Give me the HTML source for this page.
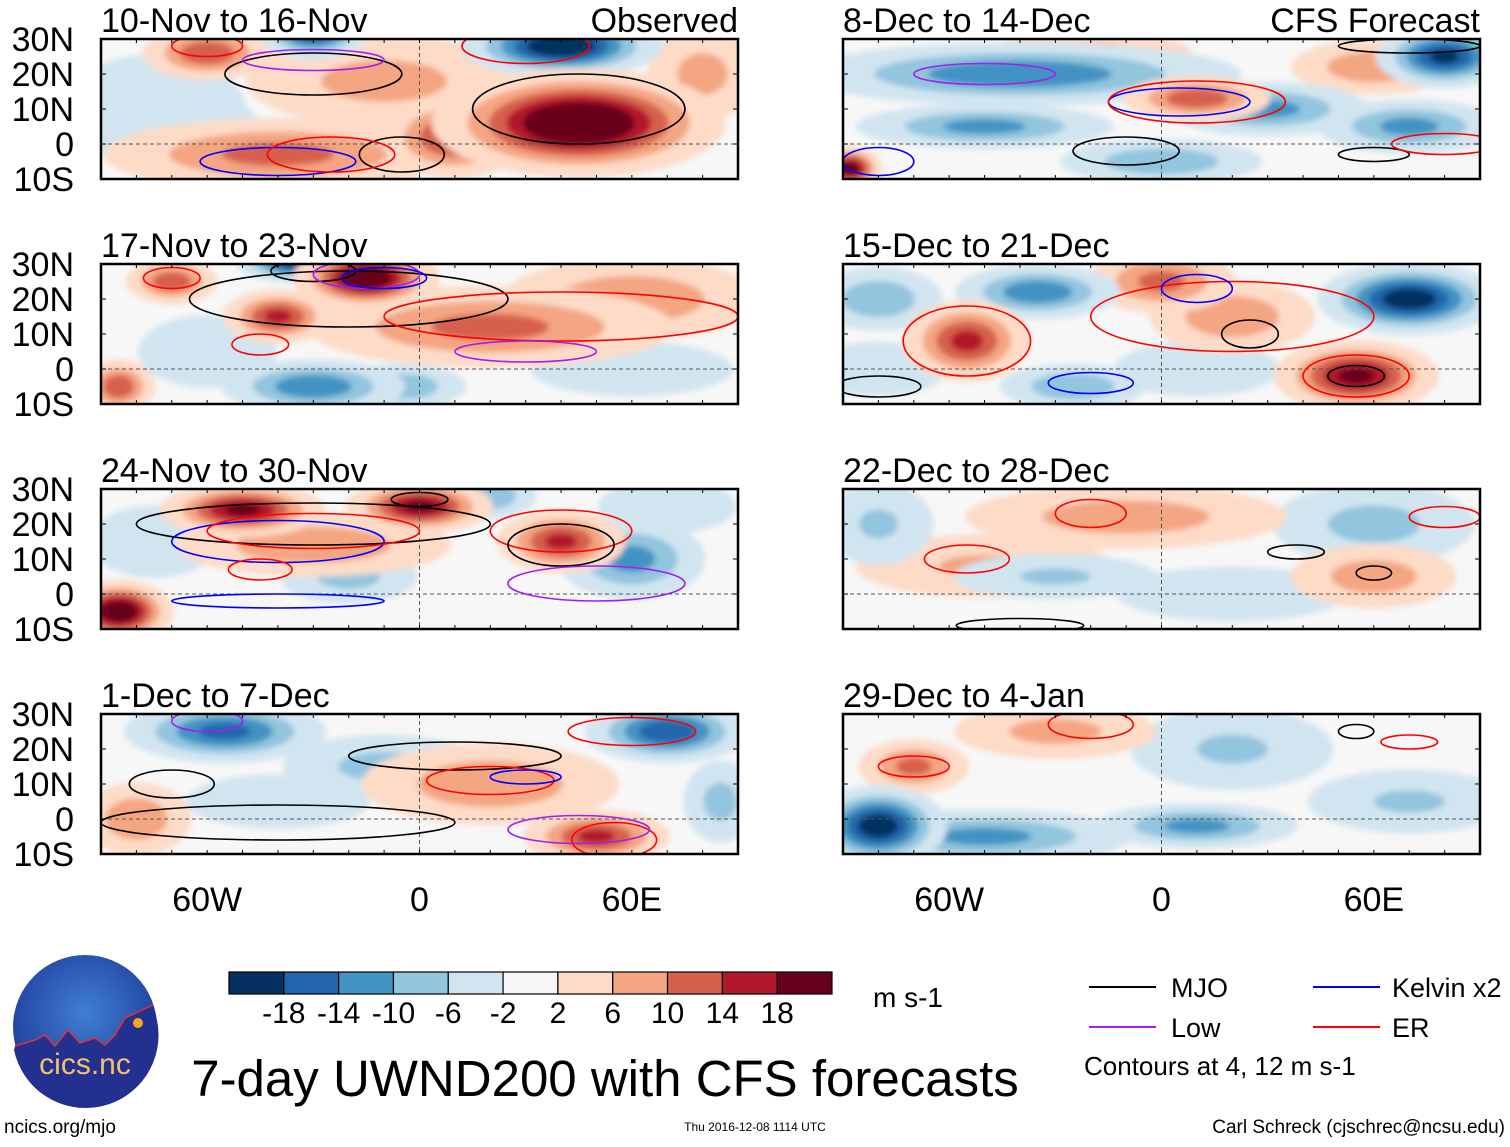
<!DOCTYPE html>
<html><head><meta charset="utf-8">
<style>
html,body{margin:0;padding:0;background:#fff;}
svg text{font-family:"Liberation Sans",sans-serif;}
</style></head>
<body>
<svg id="fig" width="1510" height="1142" viewBox="0 0 1510 1142" xmlns="http://www.w3.org/2000/svg">
<defs>
<filter id="blur" x="-20%" y="-20%" width="140%" height="140%"><feGaussianBlur stdDeviation="3"/></filter>
<radialGradient id="logoGrad" cx="50%" cy="40%" r="60%"><stop offset="0" stop-color="#3f7fd0"/><stop offset="1" stop-color="#1d3c9a"/></radialGradient>
</defs>
<g id="panels"></g>
<g id="colorbar"></g>
<g>
<circle cx="85" cy="1027" r="72" fill="url(#logoGrad)"/>
<path d="M15,1046 L35,1040 L45,1035 L55,1046 L68,1030 L80,1043 L95,1038 L105,1045 L115,1035 L125,1018 L153,1005 L157,1020 A72,72 0 0 1 14,1050 Z" fill="#24308f"/>
<path d="M15,1046 L35,1040 L45,1035 L55,1046 L68,1030 L80,1043 L95,1038 L105,1045 L115,1035 L125,1018 L153,1005" fill="none" stroke="#d33" stroke-width="1.5"/>
<circle cx="138" cy="1023" r="5" fill="#f5a623"/>
<text x="85" y="1074" font-size="30" fill="#f3c36b" text-anchor="middle">cics.nc</text>
</g>
<text x="4" y="1133" font-size="19">ncics.org/mjo</text>
<text x="755" y="1131" font-size="12" text-anchor="middle">Thu 2016-12-08 1114 UTC</text>
<text x="1505" y="1133" font-size="19" text-anchor="end">Carl Schreck (cjschrec@ncsu.edu)</text>
<text x="605" y="1096" font-size="51" text-anchor="middle">7-day UWND200 with CFS forecasts</text>
<text x="873" y="1007" font-size="28">m s-1</text>
<g>
<line x1="1089" y1="987" x2="1156" y2="987" stroke="#000" stroke-width="2"/>
<text x="1171" y="997" font-size="27">MJO</text>
<line x1="1089" y1="1027" x2="1156" y2="1027" stroke="#a020f0" stroke-width="2"/>
<text x="1171" y="1037" font-size="27">Low</text>
<line x1="1313" y1="987" x2="1380" y2="987" stroke="#0000ff" stroke-width="2"/>
<text x="1392" y="997" font-size="27">Kelvin x2</text>
<line x1="1313" y1="1027" x2="1380" y2="1027" stroke="#ff0000" stroke-width="2"/>
<text x="1392" y="1037" font-size="27">ER</text>
<text x="1084" y="1075" font-size="26">Contours at 4, 12 m s-1</text>
</g>
</svg>
<script>
const levels=[-18,-14,-10,-6,-2,2,6,10,14,18];
const levelColors=["#053061","#2166ac","#4393c3","#92c5de","#d1e5f0","#f7f7f7","#fddbc7","#f4a582","#d6604d","#b2182b","#67001f"];
const panelTitles=["10-Nov to 16-Nov","17-Nov to 23-Nov","24-Nov to 30-Nov","1-Dec to 7-Dec","8-Dec to 14-Dec","15-Dec to 21-Dec","22-Dec to 28-Dec","29-Dec to 4-Jan"];
const latTicks=[30,20,10,0,-10];
const latLabels=["30N","20N","10N","0","10S"];
const lonTicks=[-60,0,60];
const lonLabels=["60W","0","60E"];
// blobs: [lon, lat, value, rxDeg, ryDeg]
const blobs0=[[-75,10,-6,20,12],[-60,26,14,14,6],[-30,32,-20,12,6],[-10,18,8,30,10],[-40,-3,12,38,8],[10,2,16,16,9],[40,28,-24,22,7],[45,6,26,32,12],[80,20,8,12,10],[-65,5,-4,15,8]];
const blobs1=[[-70,25,14,10,5],[-35,31,-22,13,5],[-15,26,24,16,7],[-40,15,16,12,6],[20,12,12,40,9],[60,20,10,28,9],[-85,-5,14,8,6],[-30,-5,-14,20,6],[-5,-5,-10,14,5],[60,0,-6,22,6],[-60,5,-6,15,8]];
const blobs2=[[-50,24,20,18,6],[0,25,20,16,6],[20,28,-10,10,5],[40,15,16,14,7],[-30,14,10,30,7],[-85,-5,24,12,7],[-20,5,-8,15,6],[60,10,-12,16,9],[70,25,-6,15,6],[-75,15,-5,14,8]];
const blobs3=[[-55,25,-16,22,7],[70,25,-18,18,7],[-10,15,-8,22,7],[20,10,10,28,9],[-80,0,10,12,8],[50,-5,16,16,6],[85,5,-8,8,9],[-40,5,-6,20,6]];
const blobs4=[[-40,20,-14,48,7],[80,25,-20,15,7],[30,10,-12,22,6],[-50,5,-12,28,5],[10,13,14,16,5],[-88,-7,22,7,5],[-20,26,8,22,5],[60,22,10,18,6],[0,-5,-10,22,5],[70,5,-12,20,6]];
const blobs5=[[70,20,-22,20,8],[-35,22,-14,18,6],[-80,20,-10,14,7],[-55,8,16,14,9],[55,-2,20,18,8],[0,25,12,16,7],[20,15,10,18,8],[10,0,-6,18,6],[-25,-5,-10,16,5],[-80,0,-6,15,6]];
const blobs6=[[-10,22,9,35,7],[-50,8,7,28,7],[60,20,-8,22,9],[-30,5,-7,22,5],[60,5,9,18,7],[-80,20,-7,12,9],[20,0,-5,25,6]];
const blobs7=[[-80,-2,-22,15,9],[-50,-5,-12,32,6],[10,-2,-12,22,5],[-70,15,12,12,6],[-30,25,8,22,6],[20,20,-7,22,9],[70,5,-7,22,7]];
const allBlobs=[blobs0,blobs1,blobs2,blobs3,blobs4,blobs5,blobs6,blobs7];
// contours: [lon, lat, rxDeg, ryDeg, type]
const contours0=[[-30,20,25,6,"m"],[-5,-3,12,5,"m"],[45,10,30,10,"m"],[-40,-5,22,4,"k"],[-25,-3,18,5,"r"],[-60,28,10,3,"r"],[-30,24,20,3,"l"],[30,28,18,5,"r"]];
const contours1=[[-20,20,45,8,"m"],[-30,28,12,3,"m"],[-15,27,15,4,"l"],[-10,26,12,3,"k"],[-70,26,8,3,"r"],[-45,7,8,3,"r"],[40,15,50,7,"r"],[30,5,20,3,"l"]];
const contours2=[[-30,20,50,6,"m"],[0,27,8,2,"m"],[-40,15,30,6,"k"],[-30,18,30,5,"r"],[-45,7,9,3,"r"],[40,18,20,6,"r"],[40,14,15,6,"m"],[50,3,25,5,"l"],[-40,-2,30,2,"k"]];
const contours3=[[-70,10,12,4,"m"],[-40,-1,50,5,"m"],[-60,28,10,3,"l"],[10,18,30,4,"m"],[20,11,18,4,"r"],[60,25,18,4,"r"],[30,12,10,2,"k"],[55,-6,12,5,"r"],[45,-3,20,4,"l"]];
const contours4=[[-10,-2,15,4,"m"],[60,-3,10,2,"m"],[-80,-5,10,4,"k"],[5,12,20,4,"k"],[10,12,25,6,"r"],[-50,20,20,3,"l"],[70,28,20,2,"m"],[80,0,15,3,"r"]];
const contours5=[[-80,-5,12,3,"m"],[-55,8,18,10,"r"],[20,15,40,10,"r"],[10,23,10,4,"k"],[-20,-4,12,3,"k"],[55,-2,15,6,"r"],[55,-2,8,3,"m"],[25,10,8,4,"m"]];
const contours6=[[-20,23,10,4,"r"],[-55,10,12,4,"r"],[38,12,8,2,"m"],[60,6,5,2,"m"],[-40,-9,18,2,"m"],[80,22,10,3,"r"]];
const contours7=[[-70,15,10,3,"r"],[-20,27,12,4,"r"],[55,25,5,2,"m"],[70,22,8,2,"r"]];
const allContours=[contours0,contours1,contours2,contours3,contours4,contours5,contours6,contours7];

const NS="http://www.w3.org/2000/svg";
function mk(tag,attrs,parent){const e=document.createElementNS(NS,tag);for(const k in attrs)e.setAttribute(k,attrs[k]);parent.appendChild(e);return e;}
const colX=[101,843], rowY=[39,264,489,714], PW=637, PH=140;
function colorFor(v){let i=0;while(i<levels.length&&v>levels[i])i++;return levelColors[i];}
const ctype={m:"#000",k:"#0000ff",l:"#a020f0",r:"#ff0000"};
const root=document.getElementById("panels");
for(let p=0;p<8;p++){
  const x0=colX[Math.floor(p/4)], y0=rowY[p%4];
  const xs=lon=>x0+(lon+90)/180*PW;
  const ys=lat=>y0+(30-lat)/40*PH;
  const g=mk("g",{},root);
  
  
  const cp=mk("clipPath",{id:"cp"+p},g);mk("rect",{x:x0,y:y0,width:PW,height:PH},cp);
  const inner=mk("g",{"clip-path":"url(#cp"+p+")"},g);
  mk("rect",{x:x0,y:y0,width:PW,height:PH,fill:"#f7f7f7"},inner);
  const fg=mk("g",{filter:"url(#blur)"},inner);
  const bl=allBlobs[p].slice().sort((a,b)=>Math.abs(a[2])-Math.abs(b[2]));
  bl.forEach(b=>{
    const [lon,lat,v,rx,ry]=b;const s=Math.sign(v),a=Math.abs(v);
    [2,6,10,14,18].forEach(t=>{
      if(a<=t)return;
      const r=Math.sqrt(Math.log(a/t)/Math.log(a/2));
      const e=mk("ellipse",{cx:xs(lon),cy:ys(lat),rx:rx*PW/180*r*1.3,ry:ry*PH/40*r*1.3,fill:colorFor(s*(t+1))},fg);
      
      
    });
  });
  mk("line",{x1:x0,y1:ys(0),x2:x0+PW,y2:ys(0),stroke:"#555","stroke-dasharray":"4,3","stroke-width":1},inner);
  mk("line",{x1:xs(0),y1:y0,x2:xs(0),y2:y0+PH,stroke:"#555","stroke-dasharray":"4,3","stroke-width":1},inner);
  allContours[p].forEach(c=>{
    const e=mk("ellipse",{cx:xs(c[0]),cy:ys(c[1]),rx:c[2]*PW/180,ry:c[3]*PH/40,fill:"none",stroke:ctype[c[4]],"stroke-width":1.6},inner);
    
    
  });
  mk("rect",{x:x0,y:y0,width:PW,height:PH,fill:"none",stroke:"#000","stroke-width":2.5},g);
  for(let lon=-90;lon<=90;lon+=10){mk("line",{x1:xs(lon),y1:y0,x2:xs(lon),y2:y0+4,stroke:"#000"},g);mk("line",{x1:xs(lon),y1:y0+PH,x2:xs(lon),y2:y0+PH-4,stroke:"#000"},g);}
  latTicks.forEach(lat=>{mk("line",{x1:x0,y1:ys(lat),x2:x0+5,y2:ys(lat),stroke:"#000"},g);mk("line",{x1:x0+PW,y1:ys(lat),x2:x0+PW-5,y2:ys(lat),stroke:"#000"},g);});
  const t=mk("text",{x:x0,y:y0-7,"font-size":34},g);t.textContent=panelTitles[p];
  
  
  if(p===0||p===4){const t2=mk("text",{x:x0+PW,y:y0-7,"font-size":34,"text-anchor":"end"},g);t2.textContent=p===0?"Observed":"CFS Forecast";
    
    }
  if(p<4){latTicks.forEach((lat,i)=>{const l=mk("text",{x:74,y:ys(lat)+12,"font-size":34,"text-anchor":"end"},g);l.textContent=latLabels[i];
    
    });}
  if(p%4===3){lonTicks.forEach((lon,i)=>{const l=mk("text",{x:xs(lon),y:911,"font-size":34,"text-anchor":"middle"},g);l.textContent=lonLabels[i];
    
    });}
}
const cb=document.getElementById("colorbar");
const cbx=229,cbw=603/11;
levelColors.forEach((c,i)=>{const r=mk("rect",{x:cbx+i*cbw,y:972,width:cbw,height:22,fill:c,stroke:"#000","stroke-width":1.2},cb);
  
  });
levels.forEach((v,i)=>{const t=mk("text",{x:cbx+(i+1)*cbw,y:1023,"font-size":30,"text-anchor":"middle"},cb);t.textContent=v;
  
  });
</script>
</body></html>
